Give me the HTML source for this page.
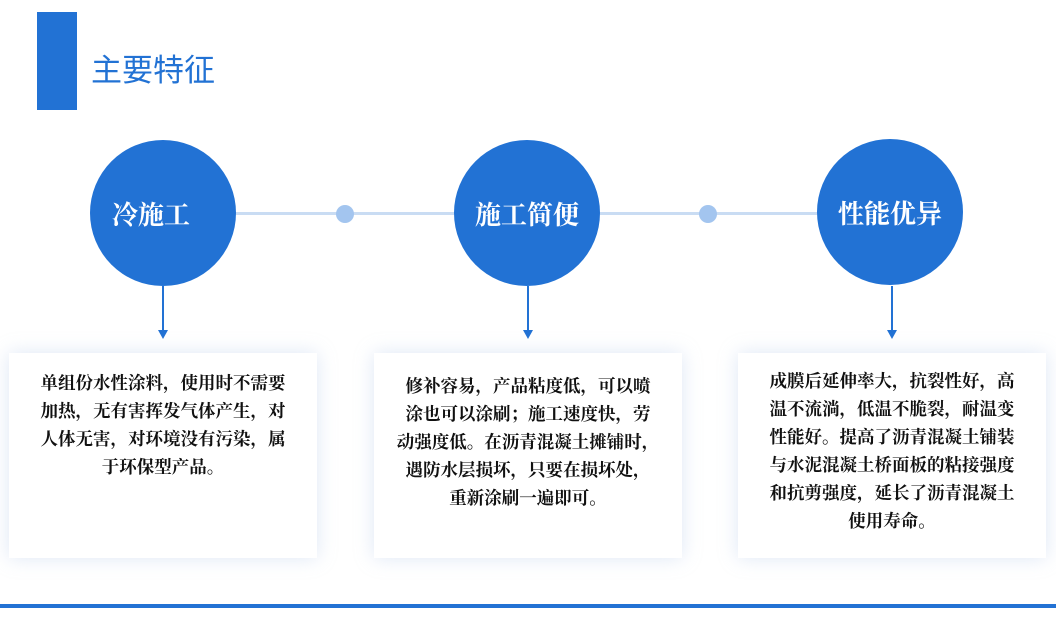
<!DOCTYPE html>
<html><head><meta charset="utf-8"><style>
body{margin:0;width:1056px;height:623px;background:#fff;position:relative;overflow:hidden;font-family:"Liberation Serif","Noto Serif CJK SC",serif}
.bar{position:absolute;left:37px;top:12px;width:40px;height:98px;background:#2272d4}
.title{position:absolute;left:91px;top:45px;font:31px "Liberation Sans","Noto Sans CJK SC",sans-serif;color:#2272d4}
.c{position:absolute;width:146px;height:146px;border-radius:50%;background:#2272d4;color:#fff;font-size:26px;font-weight:bold;display:flex;align-items:center;justify-content:center}
.line{position:absolute;height:3px;background:#c9dcf3;top:212px}
.dot{position:absolute;width:18px;height:18px;border-radius:50%;background:#a3c5ef;top:205px}
.v{position:absolute;width:1.5px;background:#2272d4;top:286px;height:46px}
.ah{position:absolute;top:330px;width:0;height:0;border-left:5px solid transparent;border-right:5px solid transparent;border-top:9px solid #2272d4}
.card{position:absolute;top:353px;width:308px;height:205px;background:#fff;box-shadow:0 0 18px rgba(160,185,225,.35);box-sizing:border-box;padding:16px 0 0;font-size:17.5px;font-weight:bold;line-height:28px;text-align:center;color:#111;white-space:nowrap}
.bot{position:absolute;left:0;top:604px;width:1056px;height:4px;background:#2272d4}
</style></head><body>
<div class="bar"></div><div class="title">主要特征</div>
<div class="line" style="left:236px;width:218px"></div>
<div class="line" style="left:600px;width:218px"></div>
<div class="dot" style="left:336px"></div>
<div class="dot" style="left:699px"></div>
<div class="c" style="left:90px;top:140px;padding-right:24px;box-sizing:border-box">冷施工</div>
<div class="c" style="left:454px;top:140px">施工简便</div>
<div class="c" style="left:817px;top:139px">性能优异</div>
<div class="v" style="left:162px"></div><div class="ah" style="left:158px"></div>
<div class="v" style="left:527px"></div><div class="ah" style="left:523px"></div>
<div class="v" style="left:891px"></div><div class="ah" style="left:887px"></div>
<div class="card" style="left:9px">单组份水性涂料，使用时不需要<br>加热，无有害挥发气体产生，对<br>人体无害，对环境没有污染，属<br>于环保型产品。</div>
<div class="card" style="left:374px;padding-top:19px">修补容易，产品粘度低，可以喷<br>涂也可以涂刷；施工速度快，劳<br>动强度低。在沥青混凝土摊铺时，<br>遇防水层损坏，只要在损坏处，<br>重新涂刷一遍即可。</div>
<div class="card" style="left:738px;padding-top:14px">成膜后延伸率大，抗裂性好，高<br>温不流淌，低温不脆裂，耐温变<br>性能好。提高了沥青混凝土铺装<br>与水泥混凝土桥面板的粘接强度<br>和抗剪强度，延长了沥青混凝土<br>使用寿命。</div>
<div class="bot"></div>
</body></html>
